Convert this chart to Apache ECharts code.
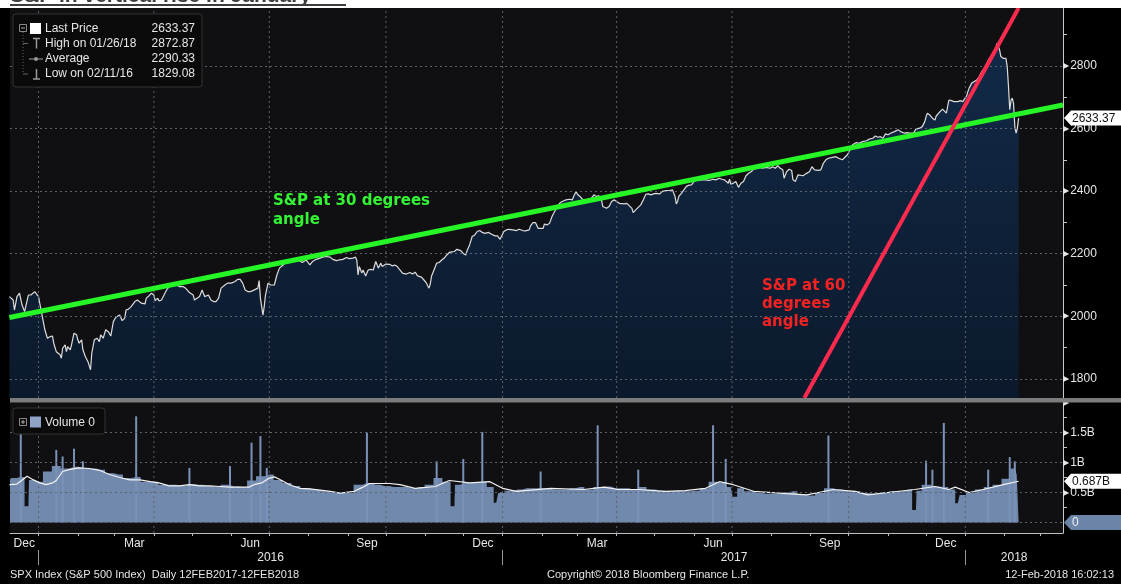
<!DOCTYPE html>
<html>
<head>
<meta charset="utf-8">
<script src="https://cdn.jsdelivr.net/npm/echarts@6/dist/echarts.min.js"></script>
<style>
html,body{margin:0;padding:0;background:#000;}
#c{width:1121px;height:584px;}
</style>
</head>
<body>
<div id="c"></div>
<script>
// ---------------- DATA ----------------
const priceDates = [
'2015-12-09','2015-12-12','2015-12-13','2015-12-15','2015-12-17','2015-12-19','2015-12-21','2015-12-24','2015-12-26','2015-12-29','2015-12-30',
'2016-01-01','2016-01-03','2016-01-04','2016-01-06','2016-01-08','2016-01-10','2016-01-12','2016-01-13','2016-01-15','2016-01-18','2016-01-19','2016-01-20','2016-01-22','2016-01-23','2016-01-24','2016-01-26','2016-01-27','2016-01-29','2016-01-31',
'2016-02-01','2016-02-02','2016-02-04','2016-02-05','2016-02-07','2016-02-09','2016-02-11','2016-02-12','2016-02-14','2016-02-16','2016-02-18','2016-02-19','2016-02-21','2016-02-23','2016-02-25','2016-02-27','2016-02-29',
'2016-03-02','2016-03-05','2016-03-07','2016-03-09','2016-03-10','2016-03-12','2016-03-14','2016-03-17','2016-03-19','2016-03-22','2016-03-25','2016-03-26','2016-03-28','2016-03-30',
'2016-04-01','2016-04-02','2016-04-04','2016-04-05','2016-04-07','2016-04-09','2016-04-11','2016-04-13','2016-04-15','2016-04-16','2016-04-19','2016-04-21','2016-04-24','2016-04-26','2016-04-29','2016-04-30',
'2016-05-02','2016-05-03','2016-05-05','2016-05-07','2016-05-09','2016-05-11','2016-05-12','2016-05-14','2016-05-16','2016-05-18','2016-05-20','2016-05-22','2016-05-24','2016-05-27','2016-05-29',
'2016-06-01','2016-06-04','2016-06-06','2016-06-08','2016-06-10','2016-06-12','2016-06-14','2016-06-16','2016-06-18','2016-06-20','2016-06-22','2016-06-23','2016-06-24','2016-06-26','2016-06-27','2016-06-28','2016-06-30',
'2016-07-02','2016-07-03','2016-07-05','2016-07-07','2016-07-09','2016-07-12','2016-07-14','2016-07-17','2016-07-20','2016-07-22','2016-07-25','2016-07-27','2016-07-30',
'2016-08-02','2016-08-04','2016-08-07','2016-08-10','2016-08-12','2016-08-15','2016-08-18','2016-08-20','2016-08-23','2016-08-25','2016-08-28','2016-08-31',
'2016-09-02','2016-09-05','2016-09-07','2016-09-08','2016-09-09','2016-09-10','2016-09-12','2016-09-13','2016-09-15','2016-09-17','2016-09-19','2016-09-21','2016-09-23','2016-09-24','2016-09-25','2016-09-27','2016-09-28',
'2016-10-01','2016-10-02','2016-10-04','2016-10-06','2016-10-08','2016-10-10','2016-10-12','2016-10-14','2016-10-17','2016-10-20','2016-10-22','2016-10-24','2016-10-26','2016-10-29','2016-10-31',
'2016-11-02','2016-11-03','2016-11-04','2016-11-05','2016-11-06','2016-11-09','2016-11-10','2016-11-12','2016-11-14','2016-11-16','2016-11-18','2016-11-20','2016-11-22','2016-11-24','2016-11-26','2016-11-27','2016-11-29',
'2016-12-01','2016-12-03','2016-12-04','2016-12-06','2016-12-08','2016-12-10','2016-12-12','2016-12-14','2016-12-16','2016-12-18','2016-12-21','2016-12-23','2016-12-26','2016-12-28','2016-12-30',
'2017-01-02','2017-01-04','2017-01-06','2017-01-09','2017-01-12','2017-01-14','2017-01-17','2017-01-19','2017-01-22','2017-01-23','2017-01-25','2017-01-27','2017-01-29',
'2017-02-02','2017-02-03','2017-02-05','2017-02-07','2017-02-09','2017-02-11','2017-02-13','2017-02-15','2017-02-17','2017-02-20','2017-02-23','2017-02-25','2017-02-26','2017-02-28',
'2017-03-01','2017-03-03','2017-03-05','2017-03-07','2017-03-09','2017-03-12','2017-03-14','2017-03-16','2017-03-18','2017-03-20','2017-03-21','2017-03-22','2017-03-24','2017-03-26','2017-03-28','2017-03-30',
'2017-04-01','2017-04-03','2017-04-04','2017-04-07','2017-04-09','2017-04-11','2017-04-13','2017-04-14','2017-04-16','2017-04-18','2017-04-19','2017-04-20','2017-04-22','2017-04-24','2017-04-26','2017-04-28','2017-04-30',
'2017-05-02','2017-05-03','2017-05-05','2017-05-07','2017-05-10','2017-05-13','2017-05-15','2017-05-17','2017-05-18','2017-05-19','2017-05-20','2017-05-22','2017-05-24','2017-05-26','2017-05-28','2017-05-30',
'2017-06-01','2017-06-03','2017-06-05','2017-06-07','2017-06-08','2017-06-10','2017-06-13','2017-06-14','2017-06-16','2017-06-18','2017-06-21','2017-06-23','2017-06-25','2017-06-26','2017-06-28','2017-06-29','2017-06-30',
'2017-07-02','2017-07-04','2017-07-06','2017-07-08','2017-07-10','2017-07-12','2017-07-14','2017-07-16','2017-07-18','2017-07-20','2017-07-23','2017-07-25','2017-07-28','2017-07-31',
'2017-08-02','2017-08-04','2017-08-06','2017-08-08','2017-08-10','2017-08-11','2017-08-13','2017-08-15','2017-08-17','2017-08-18','2017-08-20','2017-08-22','2017-08-23','2017-08-26','2017-08-28','2017-08-31',
'2017-09-02','2017-09-04','2017-09-07','2017-09-09','2017-09-11','2017-09-13','2017-09-15','2017-09-18','2017-09-21','2017-09-23','2017-09-26','2017-09-28','2017-09-30',
'2017-10-02','2017-10-04','2017-10-07','2017-10-09','2017-10-12','2017-10-15','2017-10-17','2017-10-20','2017-10-22','2017-10-24','2017-10-26','2017-10-28','2017-10-30',
'2017-11-01','2017-11-03','2017-11-06','2017-11-09','2017-11-11','2017-11-14','2017-11-16','2017-11-18','2017-11-19','2017-11-21','2017-11-23','2017-11-24','2017-11-26','2017-11-28','2017-11-30',
'2017-12-01','2017-12-02','2017-12-04','2017-12-06','2017-12-08','2017-12-09','2017-12-12','2017-12-14','2017-12-15','2017-12-17','2017-12-18','2017-12-19','2017-12-21','2017-12-23','2017-12-26','2017-12-28','2017-12-30','2017-12-31',
'2018-01-02','2018-01-03','2018-01-04','2018-01-06','2018-01-08','2018-01-10','2018-01-12','2018-01-14','2018-01-16','2018-01-18','2018-01-20','2018-01-22','2018-01-24','2018-01-25','2018-01-26','2018-01-28','2018-01-29','2018-01-31',
'2018-02-01','2018-02-02','2018-02-03','2018-02-04','2018-02-05','2018-02-06','2018-02-07','2018-02-08','2018-02-09','2018-02-10','2018-02-11','2018-02-12'
];
const priceValues = [
2063,2052,2020,2063,2074,2036,2015,2068,2068,2079,2082,
2063,2020,1999,1957,1930,1935,1937,1914,1887,1877,1866,1898,1909,1887,1903,1893,1909,1946,1941,
1925,1914,1925,1893,1871,1855,1829.08,1882,1925,1930,1919,1941,1930,1957,1951,1937,1983,
1997,2004,1986,1994,2020,2023,2031,2047,2052,2042,2040,2058,2065,2074,
2068,2050,2058,2049,2052,2068,2084,2095,2097,2103,2100,2095,2095,2090,2076,2082,
2068,2052,2058,2063,2084,2063,2058,2068,2052,2047,2047,2058,2090,2100,2106,
2106,2111,2118,2118,2106,2084,2079,2079,2082,2086,2090,2114,2058,2004,2031,2068,2106,
2100,2095,2100,2132,2154,2164,2175,2172,2177,2175,2178,2172,2180,
2164,2175,2182,2186,2189,2191,2189,2182,2178,2180,2182,2188,
2184,2186,2189,2180,2132,2159,2138,2148,2129,2148,2150,2148,2175,2180,2154,2170,2159,
2167,2161,2166,2161,2164,2159,2148,2138,2135,2140,2135,2141,2129,2125,2116,
2106,2097,2090,2104,2129,2159,2170,2172,2180,2186,2196,2204,2206,2207,2214,2212,2210,
2201,2196,2210,2228,2255,2260,2271,2274,2268,2265,2268,2263,2257,2257,2246,
2271,2276,2278,2276,2274,2278,2274,2273,2276,2289,2299,2299,2281,
2281,2295,2292,2297,2319,2335,2348,2361,2367,2372,2374,2372,2383,2399,
2390,2383,2374,2372,2372,2377,2388,2383,2385,2372,2351,2348,2345,2351,2367,2372,
2367,2361,2361,2359,2361,2353,2345,2331,2340,2348,2345,2356,2372,2390,2391,2388,2391,
2393,2395,2391,2399,2402,2402,2404,2383,2359,2367,2383,2393,2404,2415,2419,2420,
2431,2436,2434,2436,2438,2436,2434,2436,2438,2436,2441,2438,2436,2431,2425,2438,2422,
2425,2431,2412,2425,2431,2449,2457,2462,2470,2473,2476,2473,2476,2473,
2478,2473,2481,2473,2468,2441,2462,2470,2466,2436,2431,2452,2457,2449,2455,2462,
2478,2468,2466,2468,2489,2500,2505,2508,2510,2505,2500,2508,2516,
2532,2548,2555,2553,2558,2561,2566,2569,2576,2572,2574,2569,2583,
2580,2585,2590,2596,2590,2585,2587,2585,2590,2585,2598,2600,2601,2606,2622,
2638,2649,2643,2633,2627,2640,2654,2662,2659,2649,2670,2691,2689,2686,2686,2689,2686,2691,
2704,2718,2729,2745,2750,2755,2766,2782,2793,2809,2824,2835,2846,2856,2872.87,2851,2830,2824,
2824,2824,2798,2734,2660,2690,2697,2680,2606,2585,2601,2633.37
];

// weekly volume level (billions)
const volDates = [
'2015-12-09','2015-12-11','2015-12-18','2015-12-25',
'2016-01-01','2016-01-08','2016-01-15','2016-01-22','2016-01-29',
'2016-02-05','2016-02-12','2016-02-19','2016-02-26',
'2016-03-04','2016-03-11','2016-03-18','2016-03-25',
'2016-04-01','2016-04-08','2016-04-15','2016-04-22','2016-04-29',
'2016-05-06','2016-05-13','2016-05-20','2016-05-27',
'2016-06-03','2016-06-10','2016-06-17','2016-06-24',
'2016-07-01','2016-07-08','2016-07-15','2016-07-22','2016-07-29',
'2016-08-05','2016-08-12','2016-08-19','2016-08-26',
'2016-09-02','2016-09-09','2016-09-16','2016-09-23','2016-09-30',
'2016-10-07','2016-10-14','2016-10-21','2016-10-28',
'2016-11-04','2016-11-11','2016-11-18','2016-11-25',
'2016-12-02','2016-12-09','2016-12-16','2016-12-23','2016-12-30',
'2017-01-06','2017-01-13','2017-01-20','2017-01-27',
'2017-02-03','2017-02-10','2017-02-17','2017-02-24',
'2017-03-03','2017-03-10','2017-03-17','2017-03-24','2017-03-31',
'2017-04-07','2017-04-14','2017-04-21','2017-04-28',
'2017-05-05','2017-05-12','2017-05-19','2017-05-26',
'2017-06-02','2017-06-09','2017-06-16','2017-06-23','2017-06-30',
'2017-07-07','2017-07-14','2017-07-21','2017-07-28',
'2017-08-04','2017-08-11','2017-08-18','2017-08-25',
'2017-09-01','2017-09-08','2017-09-15','2017-09-22','2017-09-29',
'2017-10-06','2017-10-13','2017-10-20','2017-10-27',
'2017-11-03','2017-11-10','2017-11-17','2017-11-24',
'2017-12-01','2017-12-08','2017-12-15','2017-12-22','2017-12-29',
'2018-01-05','2018-01-12','2018-01-19','2018-01-26',
'2018-02-02','2018-02-09','2018-02-12'
];
const volValues = [
0.72,0.74,0.76,0.71,
0.68,0.85,0.94,0.90,0.93,
0.90,0.90,0.88,0.82,
0.80,0.74,0.76,0.68,
0.68,0.63,0.63,0.61,0.64,
0.63,0.61,0.59,0.63,
0.60,0.59,0.70,0.77,
0.80,0.71,0.66,0.61,0.57,
0.55,0.52,0.50,0.49,
0.49,0.63,0.66,0.63,0.61,
0.59,0.59,0.57,0.59,
0.63,0.74,0.68,0.63,
0.66,0.66,0.68,0.59,0.49,
0.53,0.55,0.57,0.57,
0.57,0.55,0.55,0.57,
0.59,0.55,0.59,0.60,0.57,
0.57,0.55,0.59,0.55,
0.53,0.52,0.53,0.52,
0.53,0.57,0.68,0.66,0.59,
0.57,0.52,0.49,0.48,
0.48,0.50,0.52,0.46,
0.45,0.49,0.57,0.55,0.53,
0.52,0.49,0.48,0.50,
0.52,0.52,0.55,0.53,
0.63,0.60,0.59,0.55,0.46,
0.50,0.55,0.59,0.63,
0.73,0.90,0.80
];
// thin low-volume days (holiday sessions)
const lowDates  = ['2015-12-24','2016-11-24','2016-12-27','2017-07-03','2017-11-23','2017-12-26'];
const lowValues = [0.27,0.27,0.33,0.43,0.21,0.32];
// single-day volume spikes
const spikeDates = ['2015-12-18','2016-01-15','2016-01-20','2016-01-29','2016-02-05','2016-03-18','2016-04-29','2016-05-31','2016-06-17','2016-06-24','2016-06-29','2016-09-16','2016-11-10','2016-12-01','2016-12-16','2017-01-31','2017-03-17','2017-04-18','2017-06-16','2017-06-26','2017-09-15','2017-12-01','2017-12-06','2017-12-15','2018-01-19','2018-02-05','2018-02-09'];
const spikeValues = [1.80,1.21,1.10,1.23,1.02,1.77,0.91,0.94,1.33,1.44,0.91,1.50,1.02,1.06,1.51,0.85,1.62,0.88,1.62,1.06,1.45,1.03,0.88,1.66,0.88,1.09,1.02];
// volume moving average (white line)
const maDates = ['2015-12-09','2015-12-15','2015-12-23','2015-12-28','2016-01-02','2016-01-07','2016-01-12','2016-01-15','2016-01-20','2016-01-25','2016-02-02','2016-02-10','2016-02-18','2016-02-26','2016-03-05','2016-03-13','2016-03-21','2016-03-29','2016-04-05','2016-04-13','2016-04-21','2016-04-29','2016-05-07','2016-05-15','2016-05-23','2016-05-31','2016-06-07','2016-06-15','2016-06-19','2016-06-25','2016-07-01','2016-07-05','2016-07-09','2016-07-17','2016-07-25','2016-08-02','2016-08-10','2016-08-18','2016-08-26','2016-09-06','2016-09-10','2016-09-14','2016-09-18','2016-09-26','2016-10-04','2016-10-12','2016-10-24','2016-11-09','2016-11-20','2016-12-06','2016-12-22','2017-01-01','2017-01-12','2017-02-08','2017-03-06','2017-03-22','2017-04-02','2017-04-18','2017-05-09','2017-05-25','2017-06-10','2017-06-21','2017-07-02','2017-07-18','2017-08-13','2017-08-29','2017-09-19','2017-10-06','2017-10-16','2017-11-01','2017-11-22','2017-12-08','2017-12-19','2017-12-24','2018-01-04','2018-01-15','2018-01-31','2018-02-12'];
const maValues = [0.63,0.64,0.77,0.71,0.66,0.63,0.66,0.70,0.85,0.88,0.91,0.90,0.87,0.80,0.75,0.71,0.71,0.68,0.66,0.61,0.61,0.63,0.61,0.61,0.60,0.59,0.59,0.59,0.63,0.66,0.74,0.76,0.72,0.63,0.57,0.56,0.54,0.52,0.49,0.52,0.56,0.60,0.65,0.65,0.65,0.63,0.57,0.60,0.70,0.66,0.68,0.57,0.52,0.57,0.55,0.59,0.55,0.55,0.52,0.53,0.57,0.68,0.63,0.52,0.48,0.46,0.55,0.52,0.46,0.50,0.55,0.60,0.55,0.59,0.50,0.55,0.63,0.687];

// hand-drawn trend lines (endpoints)
const trend30Dates = ['2015-12-09','2018-03-19'];
const trend30Values = [1996, 2675];
const trend60Dates = ['2017-08-27','2018-02-12'];
const trend60Values = [1739, 2985];

// axis ticks / labels
const priceLabelValues = [1800,2000,2200,2400,2600,2800];
const priceMinorValues = [1900,2100,2300,2500,2700,2900];
const volLabelValues = [0.5,1,1.5,2];
const volMinorValues = [0.25,0.75,1.25,1.75];
const gridDates = ['2016-01-01','2016-04-01','2016-07-01','2016-10-01','2017-01-01','2017-04-01','2017-07-01','2017-10-01','2018-01-01'];
const monthLabelKeys = ['2015-12','2016-03','2016-06','2016-09','2016-12','2017-03','2017-06','2017-09','2017-12'];
const yearLabels = ['2016','2017','2018'];
const MONTH_NAMES = ['Jan','Feb','Mar','Apr','May','Jun','Jul','Aug','Sep','Oct','Nov','Dec'];

const legendRows = [
  ['Last Price','2633.37'],
  ['High on 01/26/18','2872.87'],
  ['Average','2290.33'],
  ['Low on 02/11/16','1829.08']
];
const lastPrice = priceValues[priceValues.length-1];
const lastVolMA = maValues[maValues.length-1];

// ---------------- BUILD ----------------
const DAY = 86400000;
const ts = s => { const p = s.split('-').map(Number); return Date.UTC(p[0], p[1]-1, p[2] || 1); };
const zip = (d, v) => d.map((x, i) => [ts(x), v[i]]);
const xMin = ts('2015-12-09') + DAY/2;
const xMax = ts('2018-03-19');
const P_MIN = 1739, P_MAX = 2985, V_MIN = -0.175, V_MAX = 2;

const monthTicks = [];
for (let y = 2015, m = 11; ; ) {
  const t = Date.UTC(y, m, 1);
  if (t > xMax) break;
  if (t >= xMin) monthTicks.push(t);
  m++; if (m > 11) { m = 0; y++; }
}
const monthLabelMap = {};
const monthLabelVals = monthLabelKeys.map(k => {
  const [y, m] = k.split('-').map(Number);
  const s = Math.max(Date.UTC(y, m-1, 1), xMin), e = Math.min(Date.UTC(y, m, 1), xMax);
  const mid = Math.round((s + e) / 2);
  monthLabelMap[mid] = MONTH_NAMES[m-1];
  return mid;
});
const yearLabelMap = {};
const yearTicks = yearLabels.map(y => Date.UTC(+y, 0, 1));
const yearLabelVals = yearLabels.map(y => {
  const s = Math.max(Date.UTC(+y, 0, 1), xMin), e = Math.min(Date.UTC(+y + 1, 0, 1), xMax);
  const mid = Math.round((s + e) / 2);
  yearLabelMap[mid] = y;
  return mid;
});

const priceData = zip(priceDates, priceValues);
const volData = zip(volDates, volValues).concat(zip(lowDates, lowValues)).sort((a, b) => a[0] - b[0]);
const spikeData = zip(spikeDates, spikeValues);
const maData = zip(maDates, maValues);

const FONT = '"Liberation Sans", Arial, sans-serif';
const TXT = '#e6e6e6';
const GRIDLINE = {color: '#5d636c', type: [2, 3], width: 1};

// vertical dotted grid lines as 2-point line series (drawn above the fills)
function vGrid(xi, yi, lo, hi) {
  return gridDates.map(d => ({
    type: 'line', xAxisIndex: xi, yAxisIndex: yi, data: [[ts(d), lo], [ts(d), hi]],
    showSymbol: false, silent: true, lineStyle: GRIDLINE, z: 3, clip: true
  }));
}

const chart = echarts.init(document.getElementById('c'), null, {renderer: 'canvas'});
const triRich = {t: {fontSize: 8, color: '#e6e6e6', fontFamily: '"DejaVu Sans"', padding: [0, 1, 0, 0]}};

chart.setOption({
  backgroundColor: '#000',
  animation: false,
  grid: [
    {left: 10, right: 58, top: 8, height: 390, show: true, backgroundColor: '#101013', borderWidth: 0},
    {left: 10, right: 58, top: 402.5, height: 130.5, show: true, backgroundColor: '#101013', borderWidth: 0}
  ],
  xAxis: [
    {gridIndex: 0, type: 'value', min: xMin, max: xMax, show: false},
    {gridIndex: 1, type: 'value', min: xMin, max: xMax, position: 'bottom',
      axisLine: {show: true, onZero: false, lineStyle: {color: '#bdbdbd', width: 1}},
      axisTick: {show: true, customValues: monthTicks, length: 3, lineStyle: {color: '#bdbdbd'}},
      axisLabel: {customValues: monthLabelVals, formatter: v => monthLabelMap[v] || '', margin: 5,
        color: TXT, fontSize: 12, fontFamily: FONT},
      splitLine: {show: false}},
    {gridIndex: 1, type: 'value', min: xMin, max: xMax, position: 'bottom', offset: 17,
      axisLine: {show: false, onZero: false},
      axisTick: {show: true, customValues: yearTicks, length: 15, lineStyle: {color: '#9a9a9a'}},
      axisLabel: {customValues: yearLabelVals, formatter: v => yearLabelMap[v] || '', margin: 2,
        color: TXT, fontSize: 12, fontFamily: FONT},
      splitLine: {show: false}}
  ],
  yAxis: [
    {gridIndex: 0, type: 'value', position: 'right', min: P_MIN, max: P_MAX,
      axisLine: {show: true, lineStyle: {color: '#c8c8c8'}},
      axisTick: {show: true, customValues: priceMinorValues, length: 4, lineStyle: {color: '#c8c8c8'}},
      axisLabel: {customValues: priceLabelValues, formatter: v => '{t|▶}' + v, margin: 0,
        color: TXT, fontSize: 12, fontFamily: FONT, rich: triRich},
      splitLine: {show: false}},
    {gridIndex: 1, type: 'value', position: 'right', min: V_MIN, max: V_MAX,
      axisLine: {show: true, lineStyle: {color: '#c8c8c8'}},
      axisTick: {show: true, customValues: volMinorValues, length: 4, lineStyle: {color: '#c8c8c8'}},
      axisLabel: {customValues: volLabelValues, formatter: v => v === 2 ? '{t|▶}' : '{t|▶}' + v + 'B', margin: 0,
        color: TXT, fontSize: 12, fontFamily: FONT, rich: triRich},
      splitLine: {show: false}}
  ],
  series: [
    {type: 'line', name: 'Last Price', xAxisIndex: 0, yAxisIndex: 0, data: priceData,
      showSymbol: false, lineStyle: {color: '#dcdcdc', width: 1.2},
      areaStyle: {origin: 'start', color: new echarts.graphic.LinearGradient(0, 0, 0, 1, [
        {offset: 0, color: '#12345c'}, {offset: 1, color: '#0a1d37'}])},
      z: 2,
      markLine: {silent: true, symbol: ['none', 'none'], label: {show: false}, lineStyle: GRIDLINE,
        data: priceLabelValues.map(v => ({yAxis: v}))}},
    {type: 'line', name: 'trend30', xAxisIndex: 0, yAxisIndex: 0, data: zip(trend30Dates, trend30Values),
      showSymbol: false, lineStyle: {color: '#26f526', width: 5}, z: 5, clip: true},
    {type: 'line', name: 'trend60', xAxisIndex: 0, yAxisIndex: 0, data: zip(trend60Dates, trend60Values),
      showSymbol: false, lineStyle: {color: '#ff2b4e', width: 4}, z: 5, clip: true},
    {type: 'line', name: 'Volume', xAxisIndex: 1, yAxisIndex: 1, data: volData, step: 'middle',
      showSymbol: false, lineStyle: {width: 0}, areaStyle: {color: '#7189ad', opacity: 1}, z: 2,
      markLine: {silent: true, symbol: ['none', 'none'], label: {show: false}, lineStyle: GRIDLINE,
        data: [0, 0.5, 1, 1.5].map(v => ({yAxis: v}))}},
    {type: 'bar', name: 'VolSpike', xAxisIndex: 1, yAxisIndex: 1, data: spikeData, barWidth: 2,
      itemStyle: {color: '#7a92b8'}, z: 3},
    {type: 'line', name: 'VolMA', xAxisIndex: 1, yAxisIndex: 1, data: maData, showSymbol: false,
      lineStyle: {color: '#f2f2f2', width: 1.2}, z: 4}
  ].concat(vGrid(0, 0, P_MIN, P_MAX), vGrid(1, 1, V_MIN, V_MAX))
});

// ---------------- ANNOTATIONS ----------------
function txt(text, x, y, opt) {
  return {type: 'text', z: 100, silent: true,
    style: Object.assign({text: text, x: x, y: y, fill: TXT, font: '12px ' + FONT,
      textAlign: 'left', textVerticalAlign: 'middle'}, opt || {})};
}
function line(x1, y1, x2, y2, color, w, dash) {
  return {type: 'line', z: 100, silent: true, shape: {x1, y1, x2, y2},
    style: {stroke: color, lineWidth: w || 1, lineDash: dash || null}};
}
function valueBox(y, label, fill, color) {
  return [
    {type: 'polygon', z: 100, silent: true,
      shape: {points: [[1064, y], [1071, y - 7.5], [1121, y - 7.5], [1121, y + 7.5], [1071, y + 7.5]]},
      style: {fill: fill}},
    txt(label, 1072, y + 0.5, {fill: color})
  ];
}

const py = chart.convertToPixel({yAxisIndex: 0}, lastPrice);
const vy = chart.convertToPixel({yAxisIndex: 1}, lastVolMA);
const zy = chart.convertToPixel({yAxisIndex: 1}, 0);

const rowY = [28.5, 43.5, 59, 74];
const g = [];
g.push({type: 'rect', z: 100, silent: true, shape: {x: 0, y: 0, width: 1121, height: 8}, style: {fill: '#ffffff'}});
g.push(txt('S&P in vertical rise in January', 10, 7, {fill: '#3d3d3d', font: 'bold 21px ' + FONT, textVerticalAlign: 'bottom'}));
g.push({type: 'rect', z: 101, silent: true, shape: {x: 10, y: 4, width: 336, height: 2}, style: {fill: '#3d3d3d'}});
g.push({type: 'rect', z: 100, silent: true, shape: {x: 10, y: 398, width: 1111, height: 4.5}, style: {fill: '#7c7c7c'}});
// price legend
g.push({type: 'rect', z: 99, silent: true, shape: {x: 13, y: 14, width: 189, height: 73, r: 3},
  style: {fill: '#0a0a0b', stroke: '#333', lineWidth: 1}});
g.push({type: 'rect', z: 100, silent: true, shape: {x: 19.5, y: 24.5, width: 7, height: 7}, style: {fill: 'none', stroke: '#888'}});
g.push(line(21, 28, 25, 28, '#aaa'));
g.push(line(23, 32, 23, 74, '#666', 1, [1, 2]));
g.push(line(23, 43.5, 28, 43.5, '#666'));
g.push(line(23, 74, 28, 74, '#666'));
g.push({type: 'rect', z: 100, silent: true, shape: {x: 30, y: 23, width: 11, height: 11}, style: {fill: '#ffffff'}});
g.push(line(33, 38.5, 40, 38.5, '#9a9a9a', 1.5));
g.push(line(36.5, 38.5, 36.5, 48.5, '#9a9a9a', 1.5));
g.push(line(29, 59, 43, 59, '#9a9a9a', 1));
g.push({type: 'circle', z: 100, silent: true, shape: {cx: 36, cy: 59, r: 2}, style: {fill: '#9a9a9a'}});
g.push(line(36.5, 69, 36.5, 79, '#9a9a9a', 1.5));
g.push(line(33, 79, 40, 79, '#9a9a9a', 1.5));
legendRows.forEach((r, i) => {
  g.push(txt(r[0], 45, rowY[i]));
  g.push(txt(r[1], 195, rowY[i], {textAlign: 'right'}));
});
// volume legend
g.push({type: 'rect', z: 99, silent: true, shape: {x: 13, y: 408, width: 92, height: 26, r: 3},
  style: {fill: '#0a0a0b', stroke: '#333', lineWidth: 1}});
g.push({type: 'rect', z: 100, silent: true, shape: {x: 19.5, y: 418.5, width: 7, height: 7}, style: {fill: 'none', stroke: '#888'}});
g.push(line(21, 422, 25, 422, '#aaa'));
g.push(line(23, 420, 23, 424, '#aaa'));
g.push({type: 'rect', z: 100, silent: true, shape: {x: 30, y: 416.5, width: 11, height: 11}, style: {fill: '#8ea3c6'}});
g.push(txt('Volume 0', 45, 422.5));
// trend line notes
g.push(txt('S&P at 30 degrees\nangle', 273, 192, {fill: '#33f533', font: 'bold 15px "DejaVu Sans"', textVerticalAlign: 'top', lineHeight: 19}));
g.push(txt('S&P at 60\ndegrees\nangle', 762, 277, {fill: '#f52222', font: 'bold 15px "DejaVu Sans"', textVerticalAlign: 'top', lineHeight: 18}));
// value boxes on the right axis
valueBox(py, lastPrice.toFixed(2), '#ffffff', '#111').forEach(e => g.push(e));
valueBox(vy, lastVolMA.toFixed(3) + 'B', '#ffffff', '#111').forEach(e => g.push(e));
valueBox(zy, '0', '#6c84a8', '#f0f0f0').forEach(e => g.push(e));
// footer
g.push(txt('SPX Index (S&P 500 Index)  Daily 12FEB2017-12FEB2018', 10, 575, {font: '11px ' + FONT}));
g.push(txt('Copyright\u00A9 2018 Bloomberg Finance L.P.', 547, 575, {font: '11px ' + FONT}));
g.push(txt('12-Feb-2018 16:02:13', 1114, 575, {font: '11px ' + FONT, textAlign: 'right'}));

chart.setOption({graphic: {elements: g}});
</script>
</body>
</html>
